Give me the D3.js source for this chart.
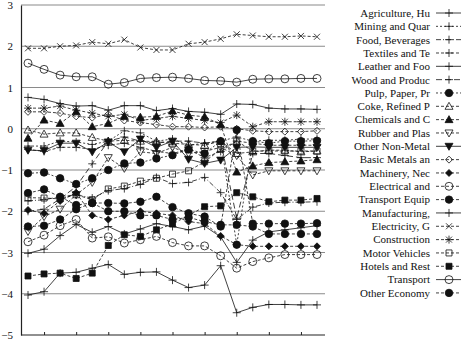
<!DOCTYPE html>
<html><head><meta charset="utf-8">
<script src="https://cdn.jsdelivr.net/npm/d3@7"></script>
<style>body{margin:0;background:#fff}svg{display:block}text{font-family:"Liberation Serif","Times New Roman",serif;fill:#111}</style>
</head><body><svg id="c" width="461" height="343"></svg>
<script>
const categories = ["1995","1996","1997","1998","1999","2000","2001","2002","2003","2004","2005","2006","2007","2008","2009","2010","2011","2012","2013"];
const yTicks = [3,2,1,0,-1,-2,-3,-4,-5];
const seriesNames = ["Agriculture, Hu","Mining and Quar","Food, Beverages","Textiles and Te","Leather and Foo","Wood and Produc","Pulp, Paper, Pr","Coke, Refined P","Chemicals and C","Rubber and Plas","Other Non-Metal","Basic Metals an","Machinery, Nec","Electrical and","Transport Equip","Manufacturing,","Electricity, G","Construction","Motor Vehicles","Hotels and Rest","Transport","Other Economy"];
const agriculture = [0.76,0.71,0.61,0.55,0.56,0.45,0.56,0.56,0.44,0.49,0.42,0.40,0.35,0.60,0.59,0.50,0.48,0.48,0.47];
const mining = [-0.42,-0.42,-0.30,-0.32,-0.38,-0.30,-0.05,-0.10,-0.30,-0.25,-0.40,-0.35,-0.30,-0.20,-0.30,-0.28,-0.28,-0.25,-0.25];
const food = [-1.75,-1.72,-1.65,-1.60,-1.68,-1.50,-1.45,-1.35,-1.18,-1.33,-1.30,-1.18,-1.55,-2.20,-1.90,-1.80,-1.78,-1.78,-1.77];
const textiles = [-0.50,-0.55,-0.45,-0.45,-0.50,-0.40,-0.35,-0.45,-0.55,-0.60,-0.50,-0.70,-0.55,-0.30,-0.35,-0.40,-0.40,-0.40,-0.40];
const leather = [-4.03,-3.95,-3.50,-3.48,-3.38,-3.29,-3.53,-3.48,-3.47,-3.67,-3.85,-3.79,-3.32,-4.46,-4.33,-4.26,-4.26,-4.27,-4.27];
const wood = [-2.00,-1.95,-1.70,-1.40,-0.85,-0.30,-0.20,-0.30,-0.35,-0.30,-0.30,-0.35,-0.30,-2.17,-0.60,-0.60,-0.65,-0.70,-0.70];
const pulp = [-1.08,-1.06,-1.20,-1.34,-1.20,-1.00,-0.84,-0.82,-0.72,-0.64,-0.50,-0.60,-0.30,-2.81,-0.30,-0.35,-0.30,-0.30,-0.29];
const coke = [-0.03,-0.13,-0.10,-0.10,-0.21,-0.30,-0.28,-0.30,-0.31,-0.35,-0.38,-0.40,-0.30,-0.60,-0.56,-0.52,-0.52,-0.56,-0.54];
const chemicals = [-0.23,0.21,0.13,0.41,0.05,0.13,0.30,0.28,0.30,0.43,0.33,0.29,0.10,-1.05,-0.90,-0.82,-0.80,-0.78,-0.75];
const rubber = [-2.49,-2.13,-1.95,-1.60,-1.30,-0.70,-0.96,-0.56,-0.60,-0.45,-0.60,-0.55,-0.45,-0.65,-1.12,-1.02,-1.02,-1.02,-1.02];
const nonMetal = [-0.52,-0.53,-0.35,-0.35,-0.56,-0.32,-0.56,-0.25,-0.45,-0.30,-0.74,-0.84,-0.76,-0.45,-0.44,-0.45,-0.45,-0.45,-0.45];
const basicMetals = [0.41,0.41,0.38,0.30,0.27,0.35,0.20,0.15,0.10,0.05,0.05,0.03,0.05,0.00,-0.05,-0.07,-0.07,-0.07,-0.05];
const machinery = [-1.97,-2.05,-1.75,-1.55,-2.10,-2.20,-2.10,-2.00,-2.05,-2.10,-2.25,-2.30,-2.60,-2.81,-2.85,-2.85,-2.85,-2.85,-2.85];
const electrical = [-2.74,-2.58,-2.35,-2.20,-2.65,-2.62,-2.77,-2.69,-2.61,-2.76,-2.84,-2.84,-3.08,-3.38,-3.22,-3.13,-3.05,-3.05,-3.05];
const transportEquip = [-1.56,-1.47,-1.65,-1.85,-1.80,-1.80,-1.81,-1.77,-1.65,-1.90,-2.05,-2.13,-2.37,-0.03,-2.30,-2.30,-2.30,-2.30,-2.29];
const manufacturing = [-3.02,-2.92,-2.59,-2.32,-2.51,-2.37,-2.55,-2.43,-2.30,-2.37,-2.45,-2.36,-2.62,-3.24,-2.70,-2.50,-2.45,-2.40,-2.35];
const electricity = [1.95,1.95,2.00,2.02,2.10,2.06,2.16,1.97,1.91,1.91,2.06,2.10,2.18,2.29,2.26,2.23,2.23,2.25,2.23];
const construction = [0.50,0.50,0.55,0.45,0.38,0.30,0.35,0.20,0.25,0.30,0.25,0.20,0.15,0.33,0.05,0.17,0.17,0.17,0.17];
const motorVehicles = [-1.67,-1.68,-1.70,-1.60,-1.72,-1.46,-1.39,-1.27,-1.20,-1.10,-1.02,-0.80,-0.50,-0.30,-0.54,-0.54,-0.54,-0.54,-0.54];
const hotels = [-3.57,-3.52,-3.50,-3.63,-3.50,-2.83,-2.57,-2.61,-2.45,-2.31,-2.10,-1.89,-1.87,-1.55,-1.65,-1.77,-1.73,-1.73,-1.69];
const transport = [1.59,1.44,1.30,1.26,1.26,1.08,1.12,1.22,1.24,1.25,1.22,1.17,1.16,1.13,1.20,1.21,1.21,1.22,1.22];
const otherEconomy = [-2.37,-2.35,-2.20,-1.95,-1.80,-2.00,-2.00,-2.10,-2.10,-2.20,-2.15,-2.25,-2.33,-2.33,-2.37,-2.55,-2.55,-2.55,-2.55];

const seriesValues = [agriculture,mining,food,textiles,leather,wood,pulp,coke,chemicals,rubber,nonMetal,basicMetals,machinery,electrical,transportEquip,manufacturing,electricity,construction,motorVehicles,hotels,transport,otherEconomy];
// styles: marker, dash
const markers = ["plus","plus","plus","plus","plus","plus","dot","triUp","triUpF","triDown","triDownF","diamond","diamondF","circle","dot","plus","x","star","square","squareF","circle","dot"];
const dashes = [null,"2,2","5,2,1,2","3,2",null,"6,3","2,2","3,2","3,2","3,2",null,"3,2","3,2","3,2","3,2",null,"3,2","3,2","3,2","3,2",null,"3,2"];

const svg = d3.select("#c");
const L=21, R=325, T=5, B=335;
const x = d3.scaleLinear().domain([0, categories.length-1]).range([28, 317]);
const y = d3.scaleLinear().domain([-5,3]).range([B,T]);

// gridlines
svg.append("g").selectAll("line").data(yTicks.filter(d=>d>-5)).join("line")
  .attr("x1",L).attr("x2",R).attr("y1",d=>y(d)).attr("y2",d=>y(d))
  .attr("stroke","#8a8a8a").attr("stroke-width",1.2);

// y axis
const ya = svg.append("g").attr("transform",`translate(${L},0)`)
  .call(d3.axisLeft(y).tickValues(yTicks).tickSize(0).tickPadding(8).tickFormat(d3.format("d")));
ya.select(".domain").attr("stroke","#222").attr("stroke-width",1.2);
ya.selectAll("text").style("font-size","11px").attr("font-family","Liberation Serif");

// x axis
const xa = svg.append("g").attr("transform",`translate(0,${B})`)
  .call(d3.axisBottom(x).tickValues(d3.range(1, categories.length, 2)).tickSizeInner(-3).tickSizeOuter(0).tickFormat(""));
xa.select(".domain").attr("stroke","#222").attr("stroke-width",1.2).attr("d",`M${L},0H${R}`);
xa.selectAll(".tick line").attr("stroke","#222");

function markerPath(m){
  switch(m){
    case "plus": return {d:"M-4,0H4M0,-4V4", fill:false, stroke:true};
    case "x": return {d:"M-3,-3L3,3M-3,3L3,-3", fill:false, stroke:true};
    case "star": return {d:"M-4,0H4M0,-4V4M-3,-3L3,3M-3,3L3,-3", fill:false, stroke:true};
    case "dot": return {d:d3.symbol(d3.symbolCircle, 44)(), fill:true};
    case "circle": return {d:d3.symbol(d3.symbolCircle, 50)(), fill:false};
    case "triUp": return {d:"M0,-4L4,3L-4,3Z", fill:false};
    case "triUpF": return {d:"M0,-4L4,3L-4,3Z", fill:true};
    case "triDown": return {d:"M0,4L4,-3L-4,-3Z", fill:false};
    case "triDownF": return {d:"M0,4L4,-3L-4,-3Z", fill:true};
    case "diamond": return {d:"M0,-3.5L3.5,0L0,3.5L-3.5,0Z", fill:false};
    case "diamondF": return {d:"M0,-3.5L3.5,0L0,3.5L-3.5,0Z", fill:true};
    case "square": return {d:"M-3,-3H3V3H-3Z", fill:false};
    case "squareF": return {d:"M-3,-3H3V3H-3Z", fill:true};
  }
}

const line = d3.line().x((d,i)=>x(i)).y(d=>y(d));
const plot = svg.append("g");
seriesValues.forEach((vals, k)=>{
  const g = plot.append("g");
  g.append("path").attr("d", line(vals)).attr("fill","none").attr("stroke","#111")
    .attr("stroke-width",0.8).attr("stroke-dasharray", dashes[k]);
  const mp = markerPath(markers[k]);
  g.selectAll("path.m").data(vals).join("path").attr("class","m")
    .attr("transform",(d,i)=>`translate(${x(i)},${y(d)})`)
    .attr("d", mp.d)
    .attr("fill", mp.fill ? "#111" : "none")
    .attr("stroke","#111").attr("stroke-width", 0.8);
});

// legend
const lg = svg.append("g");
seriesNames.forEach((name,k)=>{
  const ly = 13 + k*13.33;
  lg.append("text").attr("x",430).attr("y",ly).attr("dy","0.35em").attr("text-anchor","end")
    .style("font-size","11px").text(name);
  lg.append("line").attr("x1",436).attr("x2",461).attr("y1",ly).attr("y2",ly)
    .attr("stroke","#111").attr("stroke-width",0.8).attr("stroke-dasharray",dashes[k]);
  const mp = markerPath(markers[k]);
  lg.append("path").attr("transform",`translate(449,${ly})`).attr("d",mp.d)
    .attr("fill", mp.fill ? "#111":"none").attr("stroke","#111").attr("stroke-width",0.8);
});
</script></body></html>
